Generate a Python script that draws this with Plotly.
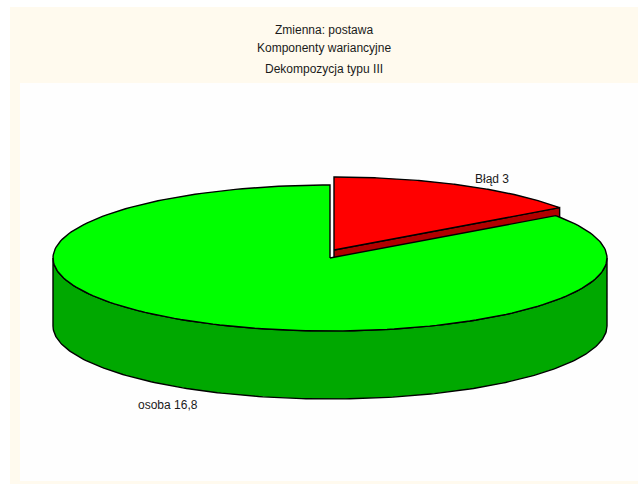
import numpy as np
import plotly.graph_objects as go

# Variance components (type III decomposition) for variable "postawa"
labels = ["Błąd", "osoba"]
values = [3.0, 16.8]
title_lines = ["Zmienna: postawa", "Komponenty wariancyjne", "Dekompozycja typu III"]

# 3D pie geometry (pixel space of the figure)
W, H = 638, 484
cx, cy = 330.0, 258.0
rx, ry = 277.0, 73.0
depth = 68.0
explode = {0: (4.0, -8.0)}        # first slice lifted out of the pie
top_colors = ["#FF0000", "#00FF00"]
side_colors = ["#B00000", "#00A800"]
label_kx, label_ky = 1.28, 1.21   # label distance from the centre, in radii


def ell(theta_deg, dx=0.0, dy=0.0, down=0.0):
    t = np.radians(theta_deg)
    return cx + dx + rx * np.cos(t), cy + dy - ry * np.sin(t) + down


def arc(a0, a1, dx=0.0, dy=0.0, down=0.0, n=200):
    th = np.linspace(a0, a1, n)
    return ell(th, dx, dy, down)


def fmt(v):
    return ("%g" % v).replace(".", ",")


total = sum(values)
# slices start at 12 o'clock and run clockwise
start = 90.0
slices = []
for i, v in enumerate(values):
    sweep = 360.0 * v / total
    slices.append((start - sweep, start))  # (a0, a1) counter-clockwise angles
    start -= sweep

fig = go.Figure()


def poly(xs, ys, fill):
    xs, ys = list(xs), list(ys)
    fig.add_trace(go.Scatter(
        x=xs + [xs[0]], y=ys + [ys[0]], mode="lines",
        fill="toself", fillcolor=fill,
        line=dict(color="black", width=1.4), hoverinfo="skip", showlegend=False))


# exploded back slice first, then the main body in front of it
for i in [0, 1]:
    a0, a1 = slices[i]
    dx, dy = explode.get(i, (0.0, 0.0))
    ccx, ccy = cx + dx, cy + dy
    # radial face at a0 (visible when it faces the viewer)
    if np.sin(np.radians(a0 - 90.0)) < 0:
        rxa, rya = ell(a0, dx, dy)
        poly([ccx, rxa, rxa, ccx], [ccy, rya, rya + depth, ccy + depth], side_colors[i])
    # outer wall: front half of the rim (angles with sin < 0)
    for k in (-1, 0, 1):
        lo = max(a0, 180.0 + 360.0 * k)
        hi = min(a1, 360.0 + 360.0 * k)
        if hi > lo:
            tx, ty = arc(lo, hi, dx, dy)
            bx, by = arc(hi, lo, dx, dy, depth)
            poly(np.concatenate([tx, bx]), np.concatenate([ty, by]), side_colors[i])
    # top face
    tx, ty = arc(a0, a1, dx, dy)
    poly(np.concatenate([[ccx], tx]), np.concatenate([[ccy], ty]), top_colors[i])

# slice labels
for i, (a0, a1) in enumerate(slices):
    t = np.radians((a0 + a1) / 2.0)
    lx = cx + label_kx * rx * np.cos(t)
    ly = cy - label_ky * ry * np.sin(t) + (depth if np.sin(t) < 0 else 0.0)
    fig.add_annotation(x=lx, y=ly, text=f"{labels[i]} {fmt(values[i])}",
                       showarrow=False, xanchor="center", yanchor="middle",
                       font=dict(family="Liberation Sans, Arial", size=12, color="#1a1a1a"))

# title lines
for line, yy in zip(title_lines, [30, 48, 69]):
    fig.add_annotation(x=323.5, y=yy, text=line, showarrow=False,
                       xanchor="center", yanchor="middle",
                       font=dict(family="Liberation Sans, Arial", size=12, color="#1a1a1a"))

fig.update_layout(
    width=W, height=H, autosize=False,
    margin=dict(l=0, r=0, t=0, b=0),
    paper_bgcolor="white", plot_bgcolor="rgba(0,0,0,0)",
    xaxis=dict(range=[0, W], visible=False, fixedrange=True),
    yaxis=dict(range=[H, 0], visible=False, fixedrange=True),
    shapes=[
        dict(type="rect", xref="x", yref="y", x0=10, y0=7, x1=W, y1=H,
             fillcolor="#FFFAEE", line=dict(width=0), layer="below"),
        dict(type="rect", xref="x", yref="y", x0=20, y0=83, x1=W, y1=481,
             fillcolor="#FEFEFE", line=dict(width=0), layer="below"),
    ],
)

fig.write_html("out.html")
